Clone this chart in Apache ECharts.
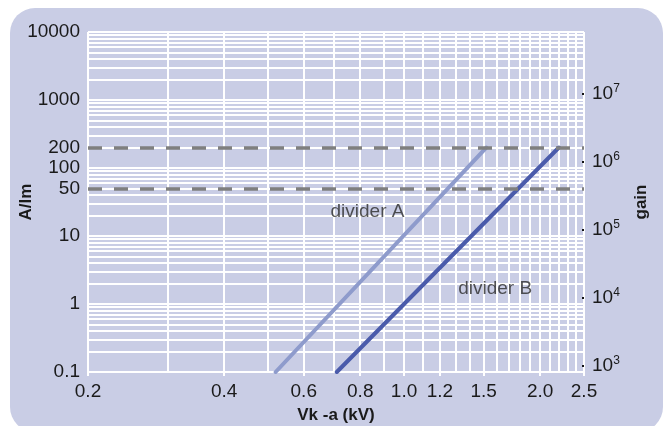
<!DOCTYPE html>
<html><head><meta charset="utf-8">
<script src="https://cdn.jsdelivr.net/npm/echarts@6/dist/echarts.min.js"></script>
<style>html,body{margin:0;padding:0;background:#fff}#c{width:667px;height:426px}</style>
</head><body><div id="c"></div>
<script>
// ---- data ----
const xLabelValues = [0.2, 0.4, 0.6, 0.8, 1.0, 1.2, 1.5, 2.0, 2.5];
const xGridValues = [0.2, 0.3, 0.4, 0.5, 0.6, 0.7, 0.8, 0.9, 1.0, 1.1, 1.2, 1.3, 1.4, 1.5, 1.6, 1.7, 1.8, 1.9, 2.0, 2.1, 2.2, 2.3, 2.4, 2.5];
const yLabelValues = [0.1, 1, 10, 50, 100, 200, 1000, 10000];
const yGridValues = [0.1, 0.2, 0.3, 0.4, 0.5, 0.6, 0.7, 0.8, 0.9,
  1, 2, 3, 4, 5, 6, 7, 8, 9,
  10, 20, 30, 40, 50, 60, 70, 80, 90,
  100, 200, 300, 400, 500, 600, 700, 800, 900,
  1000, 2000, 3000, 4000, 5000, 6000, 7000, 8000, 9000, 10000];
const gainLabelValues = [1e3, 1e4, 1e5, 1e6, 1e7];
const gainPerAlm = 8000;
const dividerA = [[0.52, 0.1], [1.52, 200]];
const dividerB = [[0.71, 0.1], [2.2, 200]];
const refLevels = [200, 50];
const notes = [
  { name: 'divider A', value: [0.83, 23] },
  { name: 'divider B', value: [1.59, 1.66] }
];

const FONT = "'Liberation Sans', Arial, sans-serif";
const chart = echarts.init(document.getElementById('c'), null, { renderer: 'canvas' });
chart.setOption({
  animation: false,
  backgroundColor: '#ffffff',
  graphic: [{
    type: 'rect', z: -10, silent: true,
    shape: { x: 10, y: 8, width: 653, height: 424, r: 25 },
    style: { fill: '#c9cde5' }
  }],
  grid: { left: 88, right: 83, top: 32, bottom: 54, containLabel: false, outerBoundsMode: 'none' },
  xAxis: [{
    type: 'log', logBase: 10, min: 0.2, max: 2.5, position: 'bottom',
    name: 'Vk -a (kV)', nameLocation: 'middle', nameGap: 35, nameMoveOverlap: false,
    nameTextStyle: { fontFamily: FONT, fontSize: 17, fontWeight: 'bold', color: '#1a1a1a' },
    axisLine: { show: false },
    axisTick: { show: false, customValues: xGridValues },
    splitLine: { show: true, lineStyle: { color: '#ffffff', width: 2 } },
    minorSplitLine: { show: false },
    axisLabel: {
      customValues: xLabelValues, margin: 10,
      fontFamily: FONT, fontSize: 19, color: '#1a1a1a',
      formatter: v => Number(v).toFixed(1)
    }
  }, {
    type: 'log', logBase: 10, min: 0.2, max: 2.5, position: 'bottom', offset: 0,
    axisLine: { show: false },
    axisTick: { show: true, length: 4, customValues: xLabelValues, lineStyle: { color: '#ffffff', width: 2 } },
    splitLine: { show: false },
    axisLabel: { show: false }
  }],
  yAxis: [{
    type: 'log', logBase: 10, min: 0.1, max: 10000,
    name: 'A/lm', nameLocation: 'middle', nameGap: 53, nameRotate: 90, nameMoveOverlap: false,
    nameTextStyle: { fontFamily: FONT, fontSize: 17, fontWeight: 'bold', color: '#1a1a1a' },
    axisLine: { show: false },
    axisTick: { show: false, customValues: yGridValues },
    splitLine: { show: true, lineStyle: { color: '#ffffff', width: 2 } },
    axisLabel: {
      customValues: yLabelValues, margin: 8,
      fontFamily: FONT, fontSize: 19, color: '#1a1a1a',
      formatter: v => String(Number(v))
    }
  }, {
    type: 'log', logBase: 10, position: 'right',
    min: yLabelValues[0] * gainPerAlm, max: yLabelValues[yLabelValues.length - 1] * gainPerAlm,
    name: 'gain', nameLocation: 'middle', nameGap: 49, nameRotate: 90, nameMoveOverlap: false,
    nameTextStyle: { fontFamily: FONT, fontSize: 17, fontWeight: 'bold', color: '#1a1a1a' },
    axisLine: { show: false },
    splitLine: { show: false },
    axisTick: { show: true, inside: true, length: 2, customValues: gainLabelValues, lineStyle: { color: '#111', width: 2 } },
    axisLabel: {
      customValues: gainLabelValues, margin: 8,
      fontFamily: FONT, fontSize: 19, color: '#1a1a1a',
      formatter: v => '10{sup|' + Math.round(Math.log10(v)) + '}',
      rich: { sup: { fontFamily: FONT, fontSize: 12, color: '#1a1a1a', verticalAlign: 'top', padding: [0, 0, 10, 0] } }
    }
  }],
  series: [{
    type: 'line', name: 'divider A', data: dividerA, showSymbol: false, symbol: 'none',
    lineStyle: { color: '#8e9bcc', width: 4, cap: 'round' }, z: 3,
    markLine: {
      silent: true, symbol: 'none',
      label: { show: false },
      lineStyle: { color: '#7f7f7f', width: 3.5, type: [14, 12] },
      data: refLevels.map(v => ({ yAxis: v }))
    }
  }, {
    type: 'line', name: 'divider B', data: dividerB, showSymbol: false, symbol: 'none',
    lineStyle: { color: '#4a5bab', width: 4, cap: 'round' }, z: 3
  }, {
    type: 'scatter', data: notes, symbolSize: 0, silent: true, z: 4,
    label: { show: true, position: 'inside', formatter: p => p.name, fontFamily: FONT, fontSize: 19, color: '#2a2a2a' }
  }]
});
</script></body></html>
